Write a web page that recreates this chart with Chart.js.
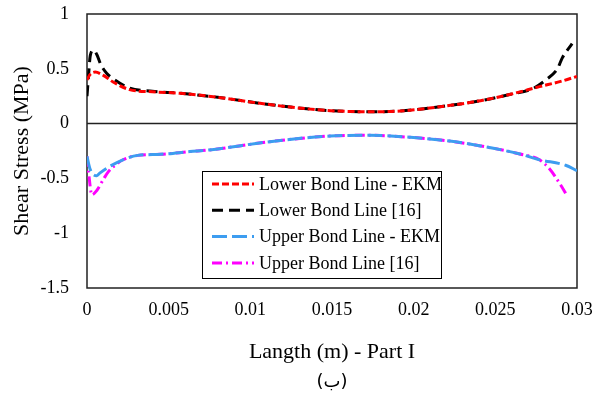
<!DOCTYPE html>
<html>
<head>
<meta charset="utf-8">
<script src="https://cdn.jsdelivr.net/npm/chart.js@4.4.0/dist/chart.umd.min.js"></script>
<style>
  html, body { margin: 0; padding: 0; background: #fff; }
  #wrap { width: 593px; height: 398px; }
</style>
</head>
<body>
<div id="wrap"><canvas id="chart" width="593" height="398"></canvas></div>
<script>
// series data (x in m, stress in MPa)
const lowerEkmX = [0, 0.0002, 0.0005, 0.001, 0.0016, 0.0026, 0.004, 0.0057, 0.008, 0.0106, 0.0128, 0.0149, 0.0173, 0.0192, 0.0216, 0.0241, 0.026, 0.0277, 0.029, 0.03];
const lowerEkmY = [0.40, 0.45, 0.47, 0.44, 0.38, 0.31, 0.29, 0.277, 0.24, 0.185, 0.145, 0.118, 0.108, 0.115, 0.154, 0.209, 0.27, 0.337, 0.385, 0.43];

const lowerRefX = [0, 0.0001, 0.0002, 0.0004, 0.0006, 0.00084, 0.0012, 0.0016, 0.0026, 0.004, 0.0057, 0.008, 0.0106, 0.0128, 0.0149, 0.0173, 0.0192, 0.0216, 0.0241, 0.026, 0.0273, 0.0281, 0.0288, 0.0291, 0.0297];
const lowerRefY = [0.25, 0.45, 0.62, 0.67, 0.63, 0.54, 0.46, 0.41, 0.325, 0.295, 0.277, 0.24, 0.185, 0.145, 0.118, 0.108, 0.115, 0.154, 0.209, 0.27, 0.32, 0.40, 0.50, 0.60, 0.73];

const upperEkmX = [0, 0.0002, 0.0006, 0.0008, 0.0014, 0.0022, 0.0031, 0.0045, 0.0063, 0.0075, 0.0112, 0.0149, 0.0173, 0.0198, 0.0222, 0.0241, 0.0265, 0.0277, 0.0293, 0.03];
const upperEkmY = [-0.30, -0.42, -0.475, -0.45, -0.39, -0.33, -0.29, -0.28, -0.255, -0.24, -0.165, -0.113, -0.107, -0.125, -0.159, -0.204, -0.277, -0.33, -0.38, -0.43];

const upperRefX = [0, 0.0001, 0.0003, 0.0006, 0.001, 0.0013, 0.0018, 0.0022, 0.0031, 0.0045, 0.0063, 0.0075, 0.0112, 0.0149, 0.0173, 0.0198, 0.0222, 0.0241, 0.0265, 0.0277, 0.0283, 0.029, 0.0294];
const upperRefY = [-0.30, -0.45, -0.65, -0.61, -0.51, -0.44, -0.37, -0.33, -0.29, -0.28, -0.255, -0.24, -0.165, -0.113, -0.107, -0.125, -0.159, -0.204, -0.277, -0.33, -0.41, -0.56, -0.66];

const seriesNames = ['Lower Bond Line - EKM', 'Lower Bond Line [16]', 'Upper Bond Line - EKM', 'Upper Bond Line [16]'];
const yTicks = [-1.5, -1, -0.5, 0, 0.5, 1];
const xTicks = [0, 0.005, 0.01, 0.015, 0.02, 0.025, 0.03];

const serif = "'Liberation Serif', 'Times New Roman', serif";

const toPoints = (xs, ys) => xs.map((x, i) => ({ x: x, y: ys[i] }));

const styles = [
  { color: '#ff0000', dash: [7, 3] },
  { color: '#000000', dash: [11, 6] },
  { color: '#3d9df0', dash: [15, 5] },
  { color: '#ff00ff', dash: [10, 4, 2, 4] }
];

const seriesData = [
  toPoints(lowerEkmX, lowerEkmY),
  toPoints(lowerRefX, lowerRefY),
  toPoints(upperEkmX, upperEkmY),
  toPoints(upperRefX, upperRefY)
];

const datasets = seriesNames.map((name, i) => ({
  label: name,
  data: seriesData[i],
  borderColor: styles[i].color,
  borderDash: styles[i].dash,
  borderWidth: 3,
  pointRadius: 0,
  fill: false,
  cubicInterpolationMode: 'monotone'
}));

// frame + zero line
const framePlugin = {
  id: 'frame',
  beforeDatasetsDraw(chart) {
    const { ctx, chartArea: a, scales } = chart;
    ctx.save();
    ctx.strokeStyle = '#222';
    ctx.lineWidth = 1.5;
    ctx.strokeRect(a.left, a.top, a.right - a.left, a.bottom - a.top);
    const y0 = scales.y.getPixelForValue(0);
    ctx.beginPath();
    ctx.moveTo(a.left, y0);
    ctx.lineTo(a.right, y0);
    ctx.stroke();
    ctx.restore();
  }
};

// boxed legend inside plot + the caption under the chart
const legendPlugin = {
  id: 'boxLegend',
  afterDraw(chart) {
    const { ctx, chartArea: a } = chart;
    const bx = 202, by = 171, bw = 239, bh = 107;
    ctx.save();
    ctx.fillStyle = '#fff';
    ctx.fillRect(bx, by, bw, bh);
    ctx.strokeStyle = '#000';
    ctx.lineWidth = 1;
    ctx.strokeRect(bx + 0.5, by + 0.5, bw, bh);
    ctx.font = '18px ' + serif;
    ctx.textBaseline = 'middle';
    ctx.textAlign = 'left';
    seriesNames.forEach((name, i) => {
      const y = by + 13 + i * 26.3;
      ctx.strokeStyle = styles[i].color;
      ctx.lineWidth = 3;
      ctx.setLineDash(styles[i].dash);
      ctx.beginPath();
      ctx.moveTo(bx + 10, y);
      ctx.lineTo(bx + 52, y);
      ctx.stroke();
      ctx.setLineDash([]);
      ctx.fillStyle = '#000';
      ctx.fillText(name, bx + 57, y + 1);
    });
    ctx.font = "18px 'DejaVu Sans', " + serif;
    ctx.textAlign = 'center';
    ctx.fillText('(ب)', (a.left + a.right) / 2, 382);
    ctx.restore();
  }
};

const noScalePad = s => {
  s.paddingTop = 0;
  s.paddingBottom = 0;
  s.paddingLeft = 0;
  s.paddingRight = 0;
};

new Chart(document.getElementById('chart').getContext('2d'), {
  type: 'line',
  data: { datasets: datasets },
  options: {
    responsive: false,
    animation: false,
    layout: { padding: { top: 14, right: 16, bottom: 0, left: 0 } },
    plugins: {
      legend: { display: false },
      tooltip: { enabled: false }
    },
    scales: {
      x: {
        type: 'linear',
        min: 0,
        max: 0.03,
        afterFit: s => { s.height = 110; noScalePad(s); },
        afterBuildTicks: s => { s.ticks = xTicks.map(v => ({ value: v })); },
        grid: { display: false, drawTicks: false },
        border: { display: false },
        ticks: {
          color: '#000',
          padding: 11,
          maxRotation: 0,
          font: { family: serif, size: 18 },
          callback: v => String(+v.toFixed(3))
        },
        title: {
          display: true,
          text: 'Langth (m) - Part I',
          color: '#000',
          font: { family: serif, size: 22 },
          padding: { top: 0, bottom: 33 }
        }
      },
      y: {
        type: 'linear',
        min: -1.5,
        max: 1,
        afterFit: s => { s.width = 87; noScalePad(s); },
        afterBuildTicks: s => { s.ticks = yTicks.map(v => ({ value: v })); },
        grid: { display: false, drawTicks: false },
        border: { display: false },
        ticks: {
          color: '#000',
          padding: 18,
          font: { family: serif, size: 18 },
          callback: v => String(v)
        },
        title: {
          display: true,
          text: 'Shear Stress (MPa)',
          color: '#000',
          font: { family: serif, size: 22 },
          padding: { top: 9, bottom: 0 }
        }
      }
    }
  },
  plugins: [framePlugin, legendPlugin]
});
</script>
</body>
</html>
